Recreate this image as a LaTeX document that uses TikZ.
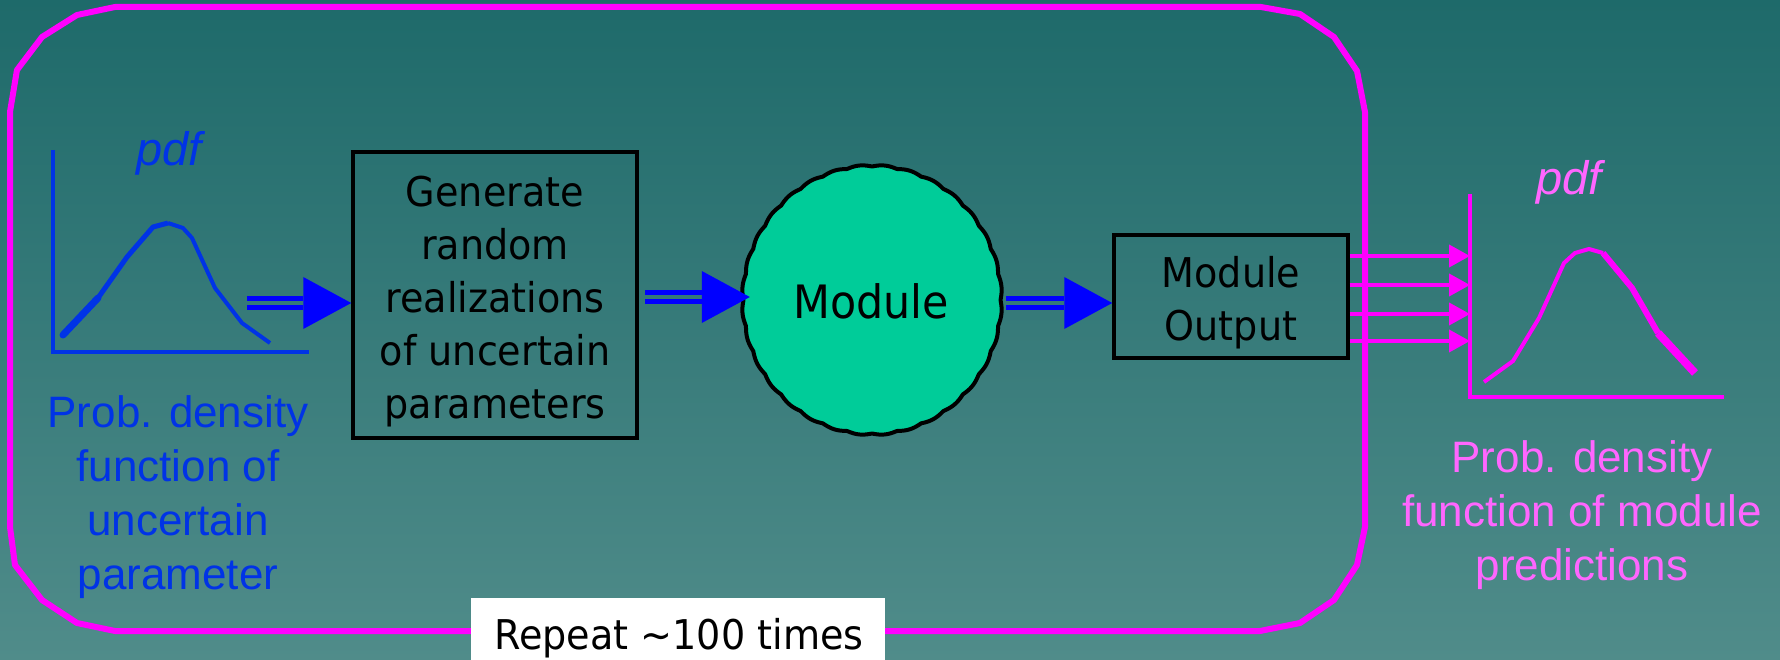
\documentclass[tikz,border=0pt]{standalone}
\usepackage{fontspec}
\setmainfont{Liberation Sans}
\newfontfamily\tahoma[FakeStretch=0.93]{DejaVu Sans}
\usetikzlibrary{arrows.meta,shapes.geometric,calc}
\definecolor{bgtop}{RGB}{30,106,106}
\definecolor{bgbot}{RGB}{80,140,138}
\definecolor{pblue}{RGB}{0,51,230}
\definecolor{arrblue}{RGB}{0,0,255}
\definecolor{mag}{RGB}{255,0,255}
\definecolor{ltpink}{RGB}{255,102,255}
\definecolor{modgreen}{RGB}{0,204,153}
\newcommand{\dblarrow}[2]{%
  \path (#2) ++(-48,0) coordinate (hb);
  \draw[dblline] ($(#1)+(0,-4.5)$) -- ($(hb)+(0,-4.5)$);
  \draw[dblline] ($(#1)+(0,4.5)$) -- ($(hb)+(0,4.5)$);
  \fill[arrblue] (#2) -- ($(hb)+(0,-26)$) -- ($(hb)+(0,26)$) -- cycle;}
\begin{document}
\begin{tikzpicture}[x=1pt,y=-1pt,
  blacktext/.style={font=\tahoma\fontsize{41}{53}\selectfont, text=black, inner sep=0},
  bigblack/.style={font=\tahoma\fontsize{46}{55}\selectfont, text=black, inner sep=0},
  bluetext/.style={font=\fontsize{44}{54}\selectfont, text=pblue, inner sep=0},
  pinktext/.style={font=\fontsize{44}{54}\selectfont, text=ltpink, inner sep=0},
  pdftext/.style={font=\itshape\fontsize{47}{54}\selectfont, inner sep=0},
  boxnode/.style={draw=black, line width=3.5, inner sep=0},
  dblline/.style={draw=arrblue, line width=5.5},
  pinkarrow/.style={draw=mag, line width=4, -{Triangle[length=21pt,width=22pt]}},
  frame/.style={draw=mag, line width=6, line join=round},
]
\useasboundingbox (0,0) rectangle (1780,660);
\shade[top color=bgtop, bottom color=bgbot] (0,0) rectangle (1780,660);

% repeat frame
\draw[frame] (115,7) -- (1261,7) -- (1300,14) -- (1334,37) -- (1357,71) -- (1365,112)
  -- (1365,527) -- (1357,565) -- (1334,600) -- (1300,623) -- (1260,631)
  -- (115,631) -- (77,623) -- (42,600) -- (15,565) -- (10,527)
  -- (10,112) -- (17,70) -- (42,37) -- (77,15) -- cycle;

% blue pdf graph
\coordinate (bo) at (53,352);
\draw[pblue, line width=4.5] (53,150) -- (bo) -- (309,352);
\draw[pblue, line width=7, line cap=round] (63,335) -- (98,298);
\draw[pblue, line width=5, line join=round] (98,298) -- (127,257) -- (153,227) -- (168,223);
\draw[pblue, line width=4, line join=round] (168,223) -- (183,228) -- (192,238) -- (215,288) -- (242,323) -- (270,343);
\node[pdftext, text=pblue, anchor=base] (bpdf) at (169,166) {pdf};
\node[bluetext, anchor=base] (btext) at (178,427)
  {\begin{tabular}[t]{@{}c@{}}Prob. density\\function of\\uncertain\\parameter\end{tabular}};

% generate box
\node[boxnode, minimum width=284, minimum height=286] (gen) at (495,295) {};
\node[blacktext, anchor=base] (gentext) at (495,207)
  {\begin{tabular}[t]{@{}c@{}}Generate\\random\\realizations\\of uncertain\\parameters\end{tabular}};

% module
\node[ellipse, minimum width=260, minimum height=270, inner sep=0] (module) at (872,300) {};
\filldraw[fill=modgreen, draw=black, line width=4, line join=round]
  plot[domain=0:360, samples=721, variable=\t]
  ({872+(128.5+1.6*abs(sin(16*\t)))*cos(\t)}, {300+(133.5+1.6*abs(sin(16*\t)))*sin(\t)}) -- cycle;
\node[bigblack, anchor=base] (modtext) at (871,318) {Module};

% module output box
\node[boxnode, minimum width=234, minimum height=123] (out) at (1231,296.5) {};
\node[blacktext, anchor=base] (outtext) at (1231,288)
  {\begin{tabular}[t]{@{}c@{}}Module\\Output\end{tabular}};

% blue double arrows
\coordinate (a1s) at (247,303);
\dblarrow{a1s}{gen.west |- a1s}
\coordinate (a2s) at (645,297);
\dblarrow{a2s}{$(module.west)+(8,-3)$}
\coordinate (a3s) at (1006,303);
\dblarrow{a3s}{out.west |- a3s}

% pink pdf graph
\coordinate (po) at (1470,397);
\draw[mag, line width=3.5] (1470,194) -- (po) -- (1724,397);
\draw[mag, line width=4, line join=round] (1484,382) -- (1513,361) -- (1539,318) -- (1564,263) -- (1575,253) -- (1589,249) -- (1603,253);
\draw[mag, line width=6, line join=round] (1603,253) -- (1632,288) -- (1658,333);
\draw[mag, line width=8] (1658,333) -- (1695,373);
\node[pdftext, text=ltpink, anchor=base] (ppdf) at (1569,195) {pdf};
\node[pinktext, anchor=base] (ptext) at (1582,472)
  {\begin{tabular}[t]{@{}c@{}}Prob. density\\function of module\\predictions\end{tabular}};

% pink arrows
\foreach \yy [count=\i] in {256,285,314,341}{
  \coordinate (py\i) at (0,\yy);
  \draw[pinkarrow] (out.east |- py\i) -- (po |- py\i);
}

% repeat label
\node[fill=white, minimum width=414, minimum height=62, inner sep=0, anchor=north west] (rep) at (471,598) {};
\node[blacktext, anchor=base] (reptext) at (679,649) {Repeat \textasciitilde100 times};
\end{tikzpicture}
\end{document}
